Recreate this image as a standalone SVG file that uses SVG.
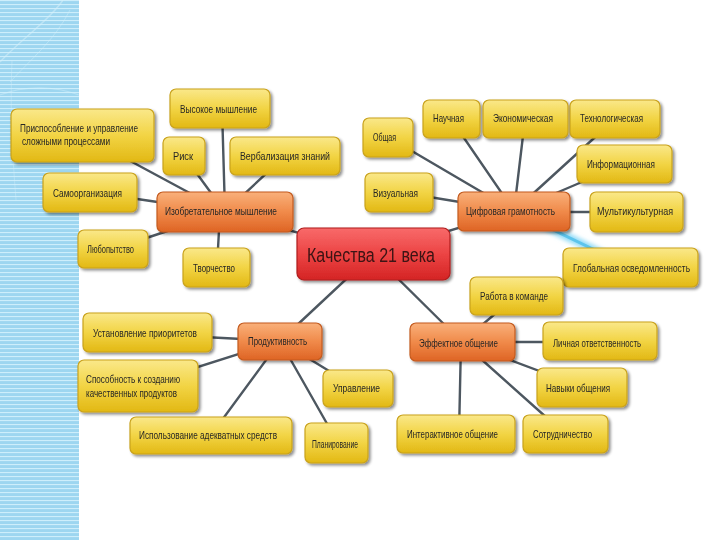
<svg xmlns="http://www.w3.org/2000/svg" width="720" height="540" viewBox="0 0 720 540">
<defs>
<pattern id="stripes" width="8" height="4" patternUnits="userSpaceOnUse">
<rect width="8" height="4" fill="#9dd6f0"/>
<rect y="0" width="8" height="1.1" fill="#cdeefb"/>
</pattern>
<linearGradient id="gy" x1="0" y1="0" x2="0" y2="1">
<stop offset="0" stop-color="#fae88a"/>
<stop offset="0.5" stop-color="#f2d444"/>
<stop offset="1" stop-color="#e2b814"/>
</linearGradient>
<linearGradient id="go" x1="0" y1="0" x2="0" y2="1">
<stop offset="0" stop-color="#f9b07a"/>
<stop offset="0.5" stop-color="#f08a4a"/>
<stop offset="1" stop-color="#de6424"/>
</linearGradient>
<linearGradient id="gr" x1="0" y1="0" x2="0" y2="1">
<stop offset="0" stop-color="#f86a6a"/>
<stop offset="0.5" stop-color="#ec4444"/>
<stop offset="1" stop-color="#d42424"/>
</linearGradient>
<filter id="sh" x="-10%" y="-20%" width="125%" height="150%">
<feGaussianBlur in="SourceAlpha" stdDeviation="1.5"/>
<feOffset dx="1.5" dy="2" result="b"/>
<feComponentTransfer><feFuncA type="linear" slope="0.45"/></feComponentTransfer>
<feMerge><feMergeNode/><feMergeNode in="SourceGraphic"/></feMerge>
</filter>
<filter id="glow" filterUnits="userSpaceOnUse" x="500" y="195" width="145" height="90">
<feGaussianBlur stdDeviation="2.2"/>
</filter>
</defs>
<style>
.y rect{fill:url(#gy);stroke:#c9a21c;stroke-width:1.2}
.o rect{fill:url(#go);stroke:#c45a1e;stroke-width:1.2}
.r rect{fill:url(#gr);stroke:#b01c1c;stroke-width:1.2}
.n{filter:url(#sh)}
text{font-family:"Liberation Sans Narrow","Liberation Sans",Arial,sans-serif;font-size:10.5px;fill:#262626}
.big{font-size:20px;fill:#3a1212}
.ln line{stroke:#4d5760;stroke-width:2.4;stroke-linecap:round}
.ln line.gl{stroke:#92dcf8;stroke-width:8;filter:url(#glow)}
.ln line.bl{stroke:#5cc4ec;stroke-width:3}
</style>
<rect width="720" height="540" fill="#ffffff"/>
<g id="band">
<rect x="0" y="0" width="79" height="540" fill="url(#stripes)"/>
<path d="M0,62 C20,40 50,20 63,0" fill="none" stroke="#d8f2fc" stroke-width="1.5" opacity="0.5"/>
<path d="M10,82 C30,60 55,40 70,10" fill="none" stroke="#d8f2fc" stroke-width="1" opacity="0.4"/>
<path d="M0,95 C25,85 55,86 79,95" fill="none" stroke="#d8f2fc" stroke-width="1.2" opacity="0.4"/>
<path d="M12,60 C10,110 12,150 16,200" fill="none" stroke="#d8f2fc" stroke-width="1" opacity="0.35"/>
</g>
<g id="connectors" class="ln">
<line x1="373" y1="254" x2="225" y2="212"/>
<line x1="373" y1="254" x2="514" y2="211"/>
<line x1="373" y1="254" x2="280" y2="341"/>
<line x1="373" y1="254" x2="462" y2="342"/>
<line x1="225" y1="212" x2="222" y2="108"/>
<line x1="225" y1="212" x2="82" y2="135"/>
<line x1="225" y1="212" x2="184" y2="156"/>
<line x1="225" y1="212" x2="285" y2="156"/>
<line x1="225" y1="212" x2="90" y2="192"/>
<line x1="225" y1="212" x2="113" y2="249"/>
<line x1="220" y1="212" x2="217" y2="267"/>
<line x1="514" y1="211" x2="388" y2="137"/>
<line x1="514" y1="211" x2="451" y2="119"/>
<line x1="514" y1="211" x2="525" y2="119"/>
<line x1="514" y1="211" x2="615" y2="119"/>
<line x1="514" y1="211" x2="624" y2="164"/>
<line x1="514" y1="211" x2="399" y2="192"/>
<line x1="514" y1="212" x2="636" y2="212"/>
<line x1="280" y1="341" x2="147" y2="334"/>
<line x1="280" y1="341" x2="138" y2="386"/>
<line x1="280" y1="341" x2="211" y2="435"/>
<line x1="280" y1="341" x2="357" y2="388"/>
<line x1="280" y1="341" x2="338" y2="443"/>
<line x1="462" y1="342" x2="516" y2="296"/>
<line x1="462" y1="342" x2="600" y2="342"/>
<line x1="462" y1="342" x2="582" y2="387"/>
<line x1="461" y1="342" x2="459" y2="434"/>
<line x1="462" y1="342" x2="565" y2="434"/>
<line class="gl" x1="514" y1="211" x2="630" y2="267"/>
<line class="bl" x1="514" y1="211" x2="630" y2="267"/>
</g>
<g id="n-vysokoe" class="n y"><rect x="170" y="89" width="100" height="39" rx="6"/><text x="180" y="113" textLength="77" lengthAdjust="spacingAndGlyphs">Высокое мышление</text></g>
<g id="n-prisp" class="n y"><rect x="11" y="109" width="143" height="53" rx="6"/><text x="20" y="132" textLength="118" lengthAdjust="spacingAndGlyphs">Приспособление и управление</text><text x="22" y="145" textLength="88" lengthAdjust="spacingAndGlyphs">сложными процессами</text></g>
<g id="n-risk" class="n y"><rect x="163" y="137" width="42" height="38" rx="6"/><text x="173" y="160" textLength="20" lengthAdjust="spacingAndGlyphs">Риск</text></g>
<g id="n-verb" class="n y"><rect x="230" y="137" width="110" height="38" rx="6"/><text x="240" y="160" textLength="90" lengthAdjust="spacingAndGlyphs">Вербализация знаний</text></g>
<g id="n-samo" class="n y"><rect x="43" y="173" width="94" height="39" rx="6"/><text x="53" y="197" textLength="69" lengthAdjust="spacingAndGlyphs">Самоорганизация</text></g>
<g id="n-lub" class="n y"><rect x="78" y="230" width="70" height="38" rx="6"/><text x="87" y="253" textLength="47" lengthAdjust="spacingAndGlyphs">Любопытство</text></g>
<g id="n-tvor" class="n y"><rect x="183" y="248" width="67" height="39" rx="6"/><text x="193" y="272" textLength="42" lengthAdjust="spacingAndGlyphs">Творчество</text></g>
<g id="n-izobr" class="n o"><rect x="157" y="192" width="136" height="40" rx="6"/><text x="165" y="215" textLength="112" lengthAdjust="spacingAndGlyphs">Изобретательное мышление</text></g>
<g id="n-cifr" class="n o"><rect x="458" y="192" width="112" height="39" rx="6"/><text x="466" y="215" textLength="89" lengthAdjust="spacingAndGlyphs">Цифровая грамотность</text></g>
<g id="n-obsh" class="n y"><rect x="363" y="118" width="50" height="39" rx="6"/><text x="373" y="141" textLength="23" lengthAdjust="spacingAndGlyphs">Общая</text></g>
<g id="n-nauch" class="n y"><rect x="423" y="100" width="57" height="38" rx="6"/><text x="433" y="122" textLength="31" lengthAdjust="spacingAndGlyphs">Научная</text></g>
<g id="n-ekon" class="n y"><rect x="483" y="100" width="85" height="38" rx="6"/><text x="493" y="122" textLength="60" lengthAdjust="spacingAndGlyphs">Экономическая</text></g>
<g id="n-tehn" class="n y"><rect x="570" y="100" width="90" height="38" rx="6"/><text x="580" y="122" textLength="63" lengthAdjust="spacingAndGlyphs">Технологическая</text></g>
<g id="n-inf" class="n y"><rect x="577" y="145" width="95" height="38" rx="6"/><text x="587" y="168" textLength="68" lengthAdjust="spacingAndGlyphs">Информационная</text></g>
<g id="n-viz" class="n y"><rect x="365" y="173" width="68" height="39" rx="6"/><text x="373" y="197" textLength="45" lengthAdjust="spacingAndGlyphs">Визуальная</text></g>
<g id="n-mult" class="n y"><rect x="590" y="192" width="93" height="40" rx="6"/><text x="597" y="215" textLength="76" lengthAdjust="spacingAndGlyphs">Мультикультурная</text></g>
<g id="n-glob" class="n y"><rect x="563" y="248" width="135" height="39" rx="6"/><text x="573" y="272" textLength="117" lengthAdjust="spacingAndGlyphs">Глобальная  осведомленность</text></g>
<g id="n-center" class="n r"><rect x="297" y="228" width="153" height="52" rx="7"/><text class="big" x="307" y="262" textLength="128" lengthAdjust="spacingAndGlyphs">Качества 21 века</text></g>
<g id="n-prod" class="n o"><rect x="238" y="323" width="84" height="37" rx="6"/><text x="248" y="345" textLength="59" lengthAdjust="spacingAndGlyphs">Продуктивность</text></g>
<g id="n-eff" class="n o"><rect x="410" y="323" width="105" height="38" rx="6"/><text x="419" y="347" textLength="79" lengthAdjust="spacingAndGlyphs">Эффектное общение</text></g>
<g id="n-ustan" class="n y"><rect x="83" y="313" width="129" height="39" rx="6"/><text x="93" y="337" textLength="104" lengthAdjust="spacingAndGlyphs">Установление приоритетов</text></g>
<g id="n-sposob" class="n y"><rect x="78" y="360" width="120" height="52" rx="6"/><text x="86" y="383" textLength="94" lengthAdjust="spacingAndGlyphs">Способность к созданию</text><text x="86" y="397" textLength="91" lengthAdjust="spacingAndGlyphs">качественных продуктов</text></g>
<g id="n-ispol" class="n y"><rect x="130" y="417" width="162" height="37" rx="6"/><text x="139" y="439" textLength="138" lengthAdjust="spacingAndGlyphs">Использование адекватных средств</text></g>
<g id="n-uprav" class="n y"><rect x="323" y="370" width="70" height="37" rx="6"/><text x="333" y="392" textLength="47" lengthAdjust="spacingAndGlyphs">Управление</text></g>
<g id="n-plan" class="n y"><rect x="305" y="423" width="63" height="40" rx="6"/><text x="312" y="448" textLength="46" lengthAdjust="spacingAndGlyphs">Планирование</text></g>
<g id="n-rab" class="n y"><rect x="470" y="277" width="93" height="38" rx="6"/><text x="480" y="300" textLength="68" lengthAdjust="spacingAndGlyphs">Работа в команде</text></g>
<g id="n-lich" class="n y"><rect x="543" y="322" width="114" height="38" rx="6"/><text x="553" y="347" textLength="88" lengthAdjust="spacingAndGlyphs">Личная ответственность</text></g>
<g id="n-nav" class="n y"><rect x="537" y="368" width="90" height="39" rx="6"/><text x="546" y="392" textLength="64" lengthAdjust="spacingAndGlyphs">Навыки общения</text></g>
<g id="n-inter" class="n y"><rect x="397" y="415" width="118" height="38" rx="6"/><text x="407" y="438" textLength="91" lengthAdjust="spacingAndGlyphs">Интерактивное общение</text></g>
<g id="n-sotr" class="n y"><rect x="523" y="415" width="85" height="38" rx="6"/><text x="533" y="438" textLength="59" lengthAdjust="spacingAndGlyphs">Сотрудничество</text></g>
</svg>
